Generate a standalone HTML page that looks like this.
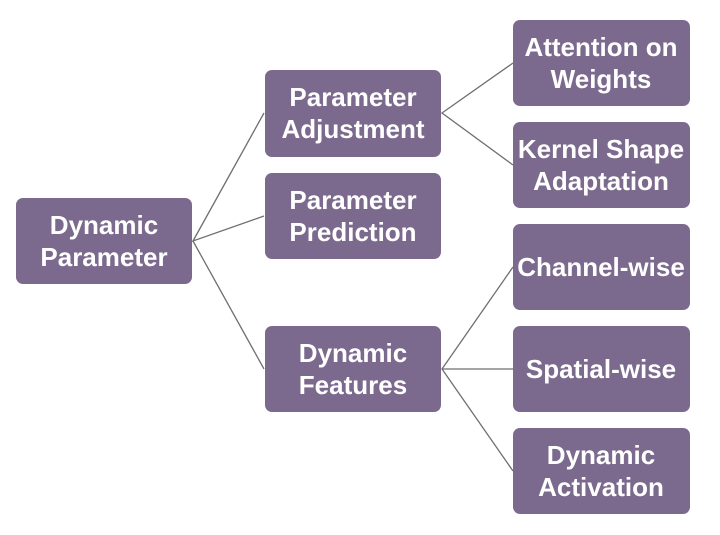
<!DOCTYPE html>
<html><head><meta charset="utf-8"><style>
html,body{margin:0;padding:0;background:#fff;}
svg{display:block}
text{font-family:"Liberation Sans",sans-serif;font-weight:bold;font-size:26px;fill:#fff;text-anchor:middle}
</style></head><body>
<svg width="720" height="535" viewBox="0 0 720 535">
<g stroke="#6f6f6f" stroke-width="1.3" fill="none">
<polyline points="264,113 193,241 264,216"/>
<line x1="193" y1="241" x2="264" y2="369"/>
<polyline points="513,63 442,113 513,165"/>
<polyline points="513,267 442,369 513,471"/>
<line x1="442" y1="369" x2="513" y2="369"/>
</g>
<g fill="#7b6a8d">
<rect x="16" y="198" width="176" height="86" rx="7"/>
<rect x="265" y="70" width="176" height="87" rx="7"/>
<rect x="265" y="173" width="176" height="86" rx="7"/>
<rect x="265" y="326" width="176" height="86" rx="7"/>
<rect x="513" y="20" width="177" height="86" rx="7"/>
<rect x="513" y="122" width="177" height="86" rx="7"/>
<rect x="513" y="224" width="177" height="86" rx="7"/>
<rect x="513" y="326" width="177" height="86" rx="7"/>
<rect x="513" y="428" width="177" height="86" rx="7"/>
</g>
<text x="104" y="234">Dynamic</text><text x="104" y="266">Parameter</text>
<text x="353" y="106">Parameter</text><text x="353" y="138">Adjustment</text>
<text x="353" y="209">Parameter</text><text x="353" y="241">Prediction</text>
<text x="353" y="362">Dynamic</text><text x="353" y="394">Features</text>
<text x="601" y="56">Attention on</text><text x="601" y="88">Weights</text>
<text x="601" y="158">Kernel Shape</text><text x="601" y="190">Adaptation</text>
<text x="601" y="276">Channel-wise</text>
<text x="601" y="378">Spatial-wise</text>
<text x="601" y="464">Dynamic</text><text x="601" y="496">Activation</text>
</svg>
</body></html>
